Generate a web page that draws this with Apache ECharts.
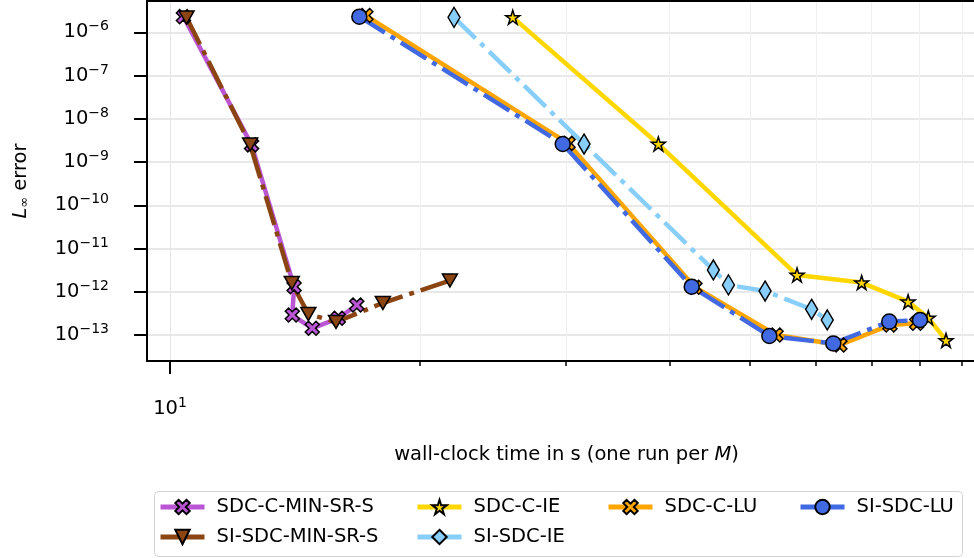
<!DOCTYPE html>
<html>
<head>
<meta charset="utf-8">
<script src="https://cdn.jsdelivr.net/npm/echarts@6/dist/echarts.min.js"></script>
<style>
  html, body { margin: 0; padding: 0; background: #fff; }
  #chart { width: 974px; height: 558px; }
</style>
</head>
<body>
<div id="chart"></div>
<script>
// Wall-clock time (s) against L-infinity error, one point per M
const minSrSTime   = [10.38, 12.54, 14.11, 14.04, 14.84, 15.95, 16.79];
const minSrSErr    = [2.3e-6, 2.5e-9, 1.31e-12, 2.9e-13, 1.43e-13, 2.44e-13, 4.95e-13];

const siMinSrSTime = [10.47, 12.49, 14.02, 14.68, 15.85, 18.05, 21.74];
const siMinSrSErr  = [2.2e-6, 2.55e-9, 1.6e-12, 3.05e-13, 2.0e-13, 5.5e-13, 1.82e-12];

const ieTime       = [25.88, 38.76, 56.95, 68.13, 77.5, 81.96, 86.1];
const ieErr        = [2.22e-6, 2.61e-9, 2.44e-12, 1.63e-12, 5.9e-13, 2.5e-13, 7.5e-14];

const siIeTime     = [21.99, 31.54, 45.15, 47.08, 52.12, 59.3, 61.93];
const siIeErr      = [2.22e-6, 2.61e-9, 3.19e-12, 1.44e-12, 1.04e-12, 3.94e-13, 2.23e-13];

const luTime       = [17.22, 30.17, 42.9, 53.73, 64.14, 73.7, 79.37];
const luErr        = [2.44e-6, 2.7e-9, 1.27e-12, 1.0e-13, 5.9e-14, 1.7e-13, 1.87e-13];

const siLuTime     = [16.91, 29.73, 42.52, 52.74, 62.98, 73.55, 80.1];
const siLuErr      = [2.3e-6, 2.61e-9, 1.31e-12, 9.5e-14, 6.4e-14, 2.04e-13, 2.23e-13];

// Tick positions
const yTicks       = [1e-6, 1e-7, 1e-8, 1e-9, 1e-10, 1e-11, 1e-12, 1e-13];
const xMajorTicks  = [10];
const xMinorTicks  = [20, 30, 40, 50, 60, 70, 80, 90];

const FONT = 'DejaVu Sans';
const FS = 19.5;
const X_MIN = Math.pow(10, 0.9723);
const X_MAX = Math.pow(10, 1.9687);
const Y_MIN = Math.pow(10, -13.601);
const Y_MAX = Math.pow(10, -5.276);

// marker shapes: filled "X" and five-point star
const X_PATH = 'path://M149.5,8.1L191.9,50.5L142.4,100L191.9,149.5L149.5,191.9L100,142.4L50.5,191.9L8.1,149.5L57.6,100L8.1,50.5L50.5,8.1L100,57.6Z';
const STAR_PATH = 'path://M100,0L122.45,69.1L195.1,69.1L136.3,111.8L158.8,180.9L100,138.2L41.2,180.9L63.7,111.8L4.9,69.1L77.55,69.1Z';
const DASH_DOT = [30, 7, 5, 7];
const LINE_W = 4.5;

function pairs(xs, ys) { return xs.map((x, i) => [x, ys[i]]); }

function makeSeries(name, xs, ys, color, dashed, symbol, size, rotate) {
  return {
    type: 'line',
    name: name,
    data: pairs(xs, ys),
    xAxisIndex: 0,
    yAxisIndex: 0,
    symbol: symbol,
    symbolSize: size,
    symbolRotate: rotate || 0,
    showSymbol: true,
    showAllSymbol: true,
    lineStyle: { color: color, width: LINE_W, type: dashed ? DASH_DOT : 'solid', cap: 'butt' },
    itemStyle: { color: color, borderColor: '#000', borderWidth: 1.5 },
    emphasis: { disabled: true },
    animation: false
  };
}

function powLabel(v) {
  const e = Math.round(Math.log10(v));
  return '{b|10}{s|' + (e < 0 ? '\u2212' : '') + Math.abs(e) + '}';
}
const powRich = {
  b: { fontSize: FS, fontFamily: FONT, color: '#000', lineHeight: 25, verticalAlign: 'middle' },
  s: { fontSize: 14, fontFamily: FONT, color: '#000', lineHeight: 15, verticalAlign: 'top' }
};

const chart = echarts.init(document.getElementById('chart'), null, { renderer: 'canvas' });

const legendCommon = {
  orient: 'vertical',
  top: 496,
  padding: 0,
  itemWidth: 44,
  itemHeight: 18,
  itemGap: 8,
  selectedMode: false,
  textStyle: { fontFamily: FONT, fontSize: FS, color: '#000', lineHeight: 22, padding: [0, 0, 0, 7] },
  lineStyle: { type: 'solid', width: 5 }
};

chart.setOption({
  animation: false,
  backgroundColor: '#fff',
  textStyle: { fontFamily: FONT },
  grid: { left: 147, right: 0, top: 1, bottom: 197, containLabel: false },
  graphic: [{
    type: 'rect',
    left: 152, top: 489,
    shape: { width: 808, height: 65, r: 4 },
    style: { fill: 'none', stroke: '#d4d4d4', lineWidth: 1 },
    z: 0
  }],
  legend: [
    Object.assign({}, legendCommon, { left: 158, data: ['SDC-C-MIN-SR-S', 'SI-SDC-MIN-SR-S'] }),
    Object.assign({}, legendCommon, { left: 415, data: ['SDC-C-IE', 'SI-SDC-IE'] }),
    Object.assign({}, legendCommon, { left: 606, data: ['SDC-C-LU'] }),
    Object.assign({}, legendCommon, { left: 798, data: ['SI-SDC-LU'] })
  ],
  xAxis: [
    {
      type: 'log', position: 'bottom', min: X_MIN, max: X_MAX,
      axisLine: { show: true, onZero: false, lineStyle: { color: '#000', width: 2 } },
      axisTick: { show: true, customValues: xMajorTicks, length: 13, lineStyle: { color: '#000', width: 2 } },
      axisLabel: { customValues: xMajorTicks, formatter: powLabel, rich: powRich, margin: 35 },
      splitLine: { show: true, lineStyle: { color: '#e6e6e6', width: 1 } },
      name: 'wall-clock time in s (one run per {i|M})',
      nameLocation: 'middle', nameGap: 84,
      nameTextStyle: {
        fontFamily: FONT, fontSize: FS, color: '#000', padding: [0, 0, 0, 12],
        rich: { i: { fontFamily: FONT, fontSize: FS, fontStyle: 'italic', color: '#000' } }
      }
    },
    {
      type: 'log', position: 'bottom', min: X_MIN, max: X_MAX,
      axisLine: { show: false, onZero: false },
      axisTick: { show: true, customValues: xMinorTicks, length: 5, lineStyle: { color: '#000', width: 1.5 } },
      axisLabel: { show: false },
      splitLine: { show: true, lineStyle: { color: '#f0f0f0', width: 1 } }
    },
    {
      type: 'value', position: 'top', min: 0, max: 1,
      axisLine: { show: true, onZero: false, lineStyle: { color: '#000', width: 2 } },
      axisTick: { show: false }, axisLabel: { show: false }, splitLine: { show: false }
    }
  ],
  yAxis: {
    type: 'log', min: Y_MIN, max: Y_MAX,
    axisLine: { show: true, onZero: false, lineStyle: { color: '#000', width: 2 } },
    axisTick: { show: true, customValues: yTicks, length: 13, lineStyle: { color: '#000', width: 2 } },
    axisLabel: { customValues: yTicks, formatter: powLabel, rich: powRich, margin: 38 },
    splitLine: { show: true, lineStyle: { color: '#e0e0e0', width: 1.5 } },
    minorTick: { show: false },
    name: '{L|L}{n|\u221e}{e| error}',
    nameLocation: 'middle', nameRotate: 90, nameGap: 114,
    nameTextStyle: {
      rich: {
        L: { fontFamily: FONT, fontSize: FS, fontStyle: 'italic', color: '#000', lineHeight: 24, verticalAlign: 'middle' },
        n: { fontFamily: FONT, fontSize: 13, color: '#000', lineHeight: 24, verticalAlign: 'bottom', padding: [0, 0, 2, 0] },
        e: { fontFamily: FONT, fontSize: FS, color: '#000', lineHeight: 24, verticalAlign: 'middle' }
      }
    }
  },
  series: [
    makeSeries('SDC-C-MIN-SR-S', minSrSTime, minSrSErr, '#BA55D3', false, X_PATH, 14),
    makeSeries('SI-SDC-MIN-SR-S', siMinSrSTime, siMinSrSErr, '#8B4513', true, 'triangle', [15, 13], 180),
    makeSeries('SDC-C-IE', ieTime, ieErr, '#FFD700', false, STAR_PATH, 14),
    makeSeries('SI-SDC-IE', siIeTime, siIeErr, '#87CEFA', true, 'diamond', [12, 20]),
    makeSeries('SDC-C-LU', luTime, luErr, '#FFA500', false, X_PATH, 14),
    makeSeries('SI-SDC-LU', siLuTime, siLuErr, '#4169E1', true, 'circle', 15)
  ]
});
</script>
</body>
</html>
